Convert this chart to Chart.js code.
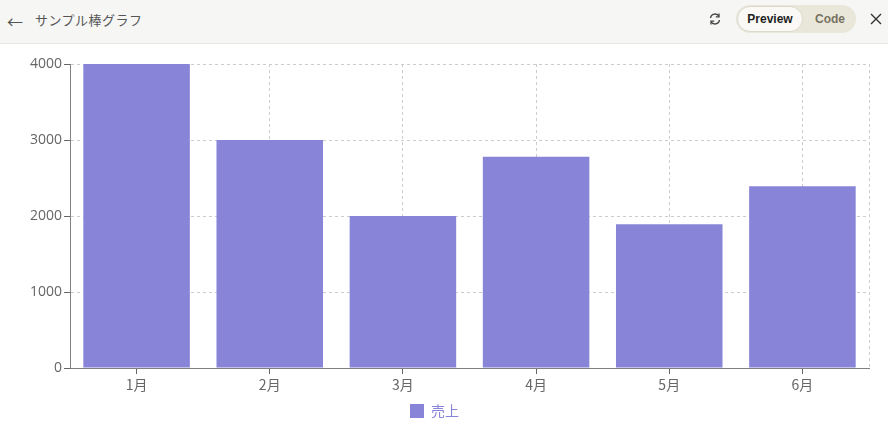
<!DOCTYPE html>
<html>
<head>
<meta charset="utf-8">
<script src="https://cdn.jsdelivr.net/npm/chart.js@4"></script>
<style>
  html,body{margin:0;padding:0;width:888px;height:445px;overflow:hidden;background:#fff;font-family:"Noto Sans CJK JP","Noto Sans",sans-serif;}
  #hdr{position:absolute;left:0;top:0;width:888px;height:43px;background:#f6f6f5;border-bottom:1px solid #e6e6e4;}
  #back{position:absolute;left:7px;top:9px;font-size:16px;color:#555;}
  #title{position:absolute;left:35px;top:10px;font-size:13px;color:#555;letter-spacing:0.5px;}
  #refresh{position:absolute;left:708px;top:12px;}
  #toggle{position:absolute;left:736px;top:5px;width:120px;height:28px;border-radius:14px;background:#e9e6da;}
  #prev{position:absolute;left:1px;top:1px;width:64px;height:24px;border-radius:13px;background:#faf9f5;border:1px solid #dcd9cf;font:bold 12px "Liberation Sans",Arial,sans-serif;color:#1f1f1f;text-align:center;line-height:24px;}
  #code{position:absolute;left:79px;top:0;height:28px;font:bold 12px "Liberation Sans",Arial,sans-serif;color:#777262;line-height:28px;}
  #close{position:absolute;left:869px;top:12px;}
  #wrap{position:absolute;left:0;top:44px;width:888px;height:401px;}
</style>
</head>
<body>
<div id="hdr">
  <div id="back">←</div>
  <div id="title">サンプル棒グラフ</div>
  <svg id="refresh" width="14" height="14" viewBox="0 0 14 14" fill="none" stroke="#444" stroke-width="1.3">
    <path d="M2.5 6 A4.5 4.5 0 0 1 11 4.5"/><path d="M11 1.5 V4.8 H7.8"/>
    <path d="M11.5 8 A4.5 4.5 0 0 1 3 9.5"/><path d="M3 12.5 V9.2 H6.2"/>
  </svg>
  <div id="toggle"><div id="prev">Preview</div><div id="code">Code</div></div>
  <svg id="close" width="14" height="14" viewBox="0 0 14 14" stroke="#333" stroke-width="1.4"><path d="M2 2 L12 12 M12 2 L2 12"/></svg>
</div>
<div id="wrap"><canvas id="c"></canvas></div>
<script>
const categories = ["1月","2月","3月","4月","5月","6月"];
const seriesName = "売上";
const sales = [4000, 3000, 2000, 2780, 1890, 2390];
const yTicks = [0, 1000, 2000, 3000, 4000];

const rightEdge = {
  id:'rightEdge',
  beforeDatasetsDraw(chart){
    const {ctx, chartArea:a} = chart;
    ctx.save();
    ctx.strokeStyle='#cccccc'; ctx.lineWidth=1; ctx.setLineDash([3,3]);
    ctx.beginPath(); ctx.moveTo(Math.round(a.right)+0.5,a.top); ctx.lineTo(Math.round(a.right)+0.5,a.bottom); ctx.stroke();
    ctx.restore();
  }
};

new Chart(document.getElementById('c'), {
  type:'bar',
  data:{labels:categories, datasets:[{label:seriesName, data:sales, backgroundColor:'#8884d8', borderWidth:0, barPercentage:0.8, categoryPercentage:1}]},
  options:{
    responsive:true, maintainAspectRatio:false, animation:false,
    layout:{padding:{top:20,right:19,bottom:17,left:0}},
    plugins:{
      legend:{position:'bottom', labels:{color:'#8884d8', font:{size:14, family:'"Noto Sans CJK JP", sans-serif'}, boxWidth:14, boxHeight:14, padding:6}},
      tooltip:{enabled:false}
    },
    scales:{
      x:{
        offset:true,
        grid:{offset:false, color:'#cccccc', tickColor:'#666', tickBorderDash:[], tickLength:6, drawOnChartArea:true},
        border:{color:'#808080', width:1, dash:[3,3]},
        ticks:{color:'#666', font:{size:14, family:'"Noto Sans CJK JP", sans-serif'}, padding:2},
        afterFit(s){ s.height = 30; }
      },
      y:{
        min:0, max:4000,
        afterBuildTicks(s){ s.ticks = yTicks.map(v=>({value:v})); },
        grid:{color:'#cccccc', tickColor:'#666', tickBorderDash:[], tickLength:6},
        border:{color:'#808080', width:1, dash:[3,3]},
        ticks:{color:'#666', font:{size:14, family:'"Open Sans", sans-serif'}, padding:2, callback:(v)=>String(v)},
        afterFit(s){ s.width = 70; }
      }
    }
  },
  plugins:[rightEdge]
});
</script>
</body>
</html>
